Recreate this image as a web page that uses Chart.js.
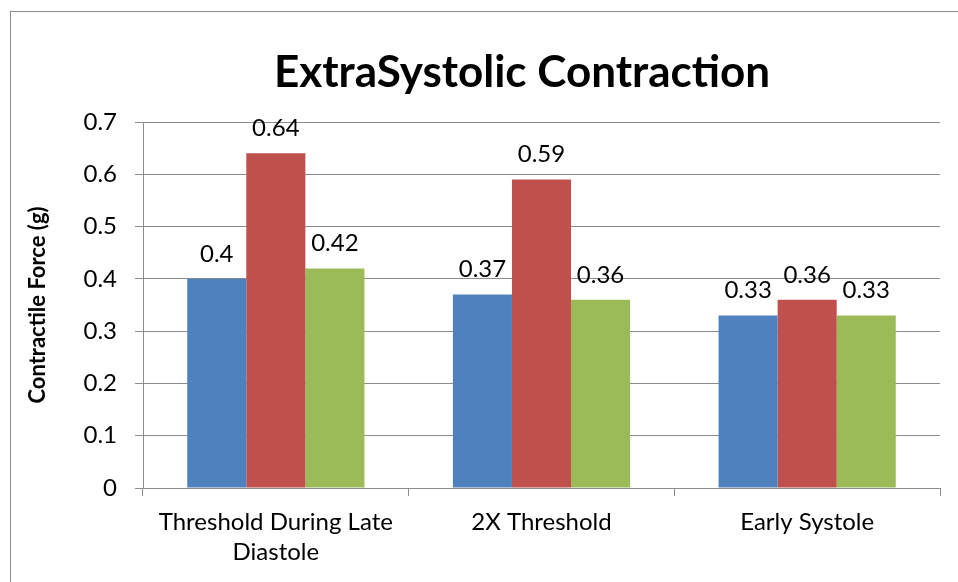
<!DOCTYPE html>
<html>
<head>
<meta charset="utf-8">
<script src="https://cdn.jsdelivr.net/npm/chart.js@4"></script>
<style>
  html, body { margin: 0; padding: 0; background: #fff; }
  #wrap { width: 958px; height: 582px; position: relative; }
</style>
</head>
<body>
<div id="wrap"><canvas id="forceChart" width="958" height="582"></canvas></div>
<script>
const categories = [['Threshold During Late', 'Diastole'], '2X Threshold', 'Early Systole'];
const seriesA = [0.40, 0.37, 0.33];
const seriesB = [0.64, 0.59, 0.36];
const seriesC = [0.42, 0.36, 0.33];
const yTicks = [0, 0.1, 0.2, 0.3, 0.4, 0.5, 0.6, 0.7];
const chartTitle = 'ExtraSystolic Contraction';

const FONT = 'Lato, "Open Sans", sans-serif';

// outer frame like the spreadsheet chart box
const framePlugin = {
  id: 'frame',
  beforeDraw(chart) {
    const c = chart.ctx;
    c.save();
    c.fillStyle = '#fff';
    c.fillRect(0, 0, chart.width, chart.height);
    c.strokeStyle = '#8c8c8c';
    c.lineWidth = 1;
    c.strokeRect(10.5, 11.5, 1000, 1000);
    c.restore();
  }
};

// title is centred on the frame, not on the canvas, so draw it here
const titlePlugin = {
  id: 'frameTitle',
  afterDraw(chart) {
    const c = chart.ctx;
    c.save();
    c.font = 'bold 44px ' + FONT;
    c.fillStyle = '#000';
    c.textAlign = 'center';
    c.textBaseline = 'middle';
    c.fillText(chartTitle, 522, 73);
    c.restore();
  }
};

// value labels above each bar
const valueLabels = {
  id: 'valueLabels',
  afterDatasetsDraw(chart) {
    const c = chart.ctx;
    c.save();
    c.font = '24px ' + FONT;
    c.fillStyle = '#000';
    c.textAlign = 'center';
    c.textBaseline = 'middle';
    chart.data.datasets.forEach((ds, i) => {
      chart.getDatasetMeta(i).data.forEach((bar, j) => {
        c.fillText(String(ds.data[j]), bar.x, bar.y - 25);
      });
    });
    c.restore();
  }
};

new Chart(document.getElementById('forceChart').getContext('2d'), {
  type: 'bar',
  data: {
    labels: categories,
    datasets: [
      { label: 'Series 1', data: seriesA, backgroundColor: '#4F81BD' },
      { label: 'Series 2', data: seriesB, backgroundColor: '#C0504D' },
      { label: 'Series 3', data: seriesC, backgroundColor: '#9BBB59' }
    ]
  },
  options: {
    responsive: false,
    animation: false,
    categoryPercentage: 0.667,
    barPercentage: 1,
    layout: { padding: { left: 0, right: 18, top: 122, bottom: 0 } },
    plugins: {
      legend: { display: false },
      tooltip: { enabled: false },
      title: { display: false }
    },
    scales: {
      x: {
        afterFit(scale) { scale.height = 94; },
        grid: { offset: true, drawOnChartArea: false, color: '#8c8c8c', tickLength: 8 },
        border: { color: '#8c8c8c' },
        ticks: {
          color: '#000',
          font: { family: FONT, size: 24, lineHeight: 1.25 },
          padding: 11,
          maxRotation: 0,
          autoSkip: false
        }
      },
      y: {
        min: 0,
        max: 0.7,
        afterFit(scale) { scale.width = 143; },
        afterBuildTicks(scale) { scale.ticks = yTicks.map(v => ({ value: v })); },
        grid: { color: '#8c8c8c', tickLength: 8 },
        border: { color: '#8c8c8c' },
        ticks: {
          color: '#000',
          font: { family: FONT, size: 24 },
          padding: 18,
          callback: v => String(Math.round(v * 10) / 10)
        },
        title: {
          display: true,
          text: 'Contractile Force (g)',
          color: '#000',
          font: { family: FONT, size: 22, weight: 'bold' },
          padding: { top: 25, bottom: 0 }
        }
      }
    }
  },
  plugins: [framePlugin, titlePlugin, valueLabels]
});
</script>
</body>
</html>
